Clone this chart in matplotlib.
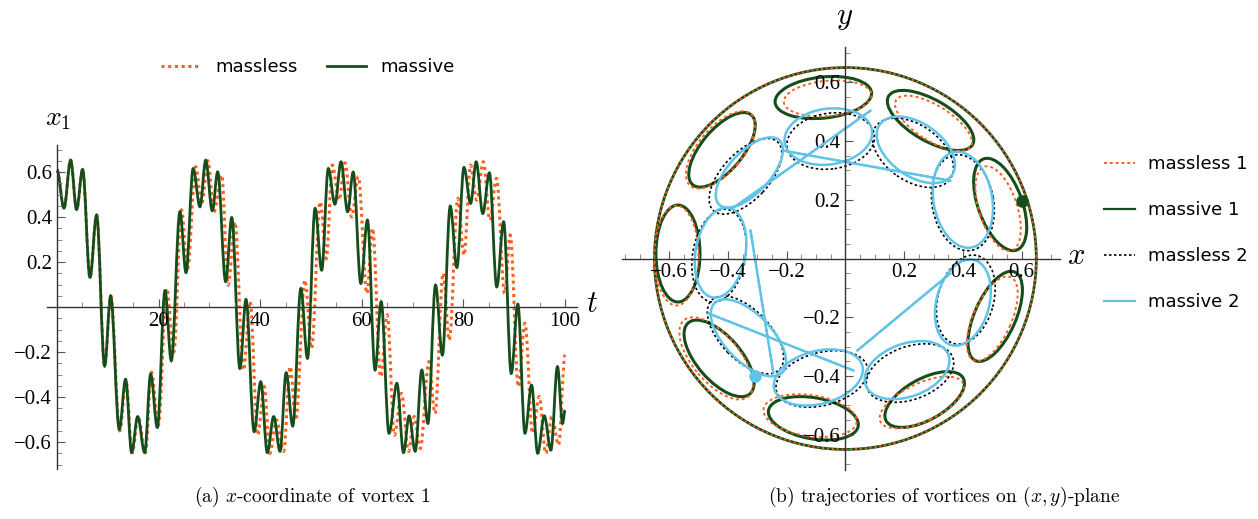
import numpy as np
import matplotlib
matplotlib.use('Agg')
import matplotlib.pyplot as plt
from matplotlib.path import Path
from matplotlib.patches import PathPatch, Ellipse, Circle
from matplotlib.lines import Line2D
from matplotlib.ticker import MultipleLocator

plt.rcParams['mathtext.fontset'] = 'cm'

# ---- (a) extrema of x1(t) ----
massive_t = [0.0, 1.38, 2.69, 3.87, 5.05, 6.5, 7.8, 9.38, 10.56, 12.27, 13.51, 14.7, 15.88, 17.26, 18.44,
             19.75, 21.26, 22.5, 24.2, 25.4, 26.8, 28.15, 29.27, 30.57, 31.63, 33.2, 34.4, 36.0, 37.2, 38.8,
             40.1, 41.4, 42.65, 43.9, 45.1, 46.4, 48.0, 49.3, 50.8, 52.1, 53.4, 54.7, 55.9, 57.2, 58.3,
             59.8, 61.1, 62.6, 63.8, 65.35, 66.9, 68.2, 69.3, 70.5, 71.8, 73.0, 74.5, 75.85, 77.4, 78.7,
             80.1, 81.4, 82.5, 83.8, 85.1, 86.55, 87.9, 89.4, 90.7, 92.1, 93.4, 94.6, 95.9, 97.2, 98.5,
             99.5, 100.0]
massive_x = [0.61, 0.44, 0.653, 0.434, 0.612, 0.132, 0.409, -0.262, 0.049, -0.544, -0.321, -0.647, -0.487, -0.647, -0.298,
             -0.535, 0.073, -0.239, 0.424, 0.153, 0.616, 0.446, 0.653, 0.428, 0.601, 0.113, 0.398, -0.273, 0.034, -0.554,
             -0.332, -0.647, -0.487, -0.641, -0.292, -0.529, 0.083, -0.228, 0.439, 0.164, 0.616, 0.458, 0.646, 0.424, 0.6,
             0.105, 0.387, -0.28, 0.024, -0.561, -0.339, -0.647, -0.484, -0.641, -0.28, -0.517, 0.098, -0.213, 0.449, 0.176,
             0.621, 0.461, 0.646, 0.416, 0.597, 0.09, 0.379, -0.295, 0.013, -0.561, -0.347, -0.65, -0.484, -0.636, -0.265,
             -0.517, -0.458]
massless_t = [0.0, 1.38, 2.69, 3.87, 5.05, 6.5, 7.8, 9.4, 10.6, 12.35, 13.6, 14.8, 16.0, 17.4, 18.6,
              19.95, 21.6, 23.0, 24.5, 25.7, 27.3, 28.5, 29.7, 30.9, 32.4, 33.7, 35.0, 36.7, 38.0, 39.5,
              40.8, 41.9, 43.2, 44.6, 45.9, 47.0, 48.8, 50.1, 51.8, 53.0, 54.2, 55.5, 56.7, 58.0, 59.3,
              61.0, 62.1, 63.7, 65.0, 66.4, 67.8, 69.2, 70.3, 71.5, 73.2, 74.4, 76.0, 77.2, 78.9, 80.1,
              81.4, 82.6, 83.9, 85.2, 86.5, 88.1, 89.2, 90.8, 92.1, 93.6, 94.9, 96.2, 97.4, 98.7, 100.0]
massless_x = [0.61, 0.44, 0.653, 0.434, 0.612, 0.132, 0.409, -0.262, 0.049, -0.55, -0.33, -0.647, -0.49, -0.647, -0.29,
              -0.525, 0.083, -0.199, 0.431, 0.172, 0.624, 0.46, 0.65, 0.424, 0.587, 0.098, 0.379, -0.28, 0.024, -0.569,
              -0.354, -0.65, -0.502, -0.641, -0.265, -0.502, 0.12, -0.184, 0.468, 0.216, 0.631, 0.476, 0.641, 0.401, 0.579,
              0.061, 0.35, -0.31, -0.035, -0.569, -0.384, -0.641, -0.487, -0.628, -0.243, -0.473, 0.15, -0.147, 0.483, 0.231,
              0.631, 0.476, 0.646, 0.387, 0.572, 0.061, 0.32, -0.354, -0.072, -0.561, -0.398, -0.65, -0.487, -0.613, -0.213]

# ---- (b) loops of the trajectories: centre x, centre y, length, width, tilt (deg) ----
disk_r = 0.65
v1_massive = [(-0.075, 0.548, 0.33, 0.14, 6), (0.29, 0.47, 0.33, 0.14, -30), (0.527, 0.184, 0.33, 0.15, -70),
              (0.51, -0.197, 0.33, 0.14, 66), (0.27, -0.48, 0.30, 0.14, 29), (-0.109, -0.544, 0.31, 0.14, -10),
              (-0.43, -0.34, 0.32, 0.15, -49), (-0.57, 0.017, 0.33, 0.15, 90), (-0.42, 0.37, 0.31, 0.14, 50)]
v1_massless = [(-0.06, 0.545, 0.30, 0.12, 5), (0.30, 0.46, 0.30, 0.12, -32), (0.52, 0.17, 0.30, 0.13, -72),
               (0.50, -0.205, 0.31, 0.13, 66), (0.26, -0.49, 0.31, 0.13, 25), (-0.12, -0.535, 0.32, 0.14, -8),
               (-0.44, -0.34, 0.34, 0.16, -50), (-0.575, 0.01, 0.34, 0.15, 90), (-0.425, 0.37, 0.32, 0.15, 50)]
v2_massive = [(-0.058, 0.415, 0.30, 0.19, 8), (-0.327, 0.293, 0.30, 0.14, 47), (-0.425, 0.02, 0.31, 0.17, 80),
              (-0.33, -0.27, 0.33, 0.16, -46), (-0.092, -0.405, 0.31, 0.18, 15), (0.21, -0.38, 0.30, 0.18, 20),
              (0.40, -0.15, 0.30, 0.18, 75), (0.40, 0.20, 0.33, 0.20, 100), (0.24, 0.37, 0.30, 0.18, -35)]
v2_massless = [(-0.05, 0.40, 0.30, 0.19, 8), (-0.34, 0.28, 0.32, 0.16, 47), (-0.43, 0.01, 0.32, 0.18, 80),
               (-0.34, -0.26, 0.33, 0.17, -46), (-0.08, -0.41, 0.32, 0.18, 15), (0.22, -0.39, 0.31, 0.18, 20),
               (0.41, -0.14, 0.31, 0.19, 75), (0.40, 0.19, 0.33, 0.21, 100), (0.23, 0.36, 0.31, 0.19, -35)]
# straight runs of vortex 2 between loops (x0, y0, x1, y1)
v2_chords = [(-0.211, 0.367, 0.357, 0.265), (0.085, 0.503, -0.381, 0.173), (-0.323, 0.095, -0.245, -0.391),
             (-0.466, -0.187, 0.027, -0.381), (0.041, -0.313, 0.357, -0.051)]
v1_now = (0.602, 0.197)
v2_now = (-0.306, -0.401)

c_orange = '#ff5e1a'
c_green = '#154d1c'
c_blue = '#5ec4ea'


def wave_path(t, x, c=0.36):
    verts = [(t[0], x[0])]
    codes = [Path.MOVETO]
    for k in range(len(t) - 1):
        dt = t[k + 1] - t[k]
        verts += [(t[k] + c * dt, x[k]), (t[k + 1] - c * dt, x[k + 1]), (t[k + 1], x[k + 1])]
        codes += [Path.CURVE4] * 3
    return Path(verts, codes)


def axes_style(ax, major, minor):
    for s in ['top', 'right']:
        ax.spines[s].set_visible(False)
    ax.spines['left'].set_position(('data', 0))
    ax.spines['bottom'].set_position(('data', 0))
    for s in ['left', 'bottom']:
        ax.spines[s].set_color('#333333')
        ax.spines[s].set_linewidth(1.0)
    ax.xaxis.set_minor_locator(MultipleLocator(minor[0]))
    ax.yaxis.set_minor_locator(MultipleLocator(minor[1]))
    ax.tick_params(which='major', direction='in', length=6, width=0.8, color='#555555', labelsize=15)
    ax.tick_params(which='minor', direction='in', length=3.5, width=0.6, color='#777777')
    for lab in ax.get_xticklabels() + ax.get_yticklabels():
        lab.set_fontfamily('Liberation Serif')


fig = plt.figure(figsize=(12.58, 5.19), dpi=100)

# ---------------- (a) ----------------
ax1 = fig.add_axes([0.0372, 0.0963, 0.4213, 0.624])
ax1.add_patch(PathPatch(wave_path(massless_t, massless_x), fill=False, ec=c_orange, lw=2.2,
                        linestyle=(0, (1.0, 1.2))))
ax1.add_patch(PathPatch(wave_path(massive_t, massive_x), fill=False, ec=c_green, lw=2.0))
ax1.set_xlim(-2, 102.3)
ax1.set_ylim(-0.72, 0.72)
ax1.set_xticks([20, 40, 60, 80, 100])
ax1.set_yticks([-0.6, -0.4, -0.2, 0.2, 0.4, 0.6])
ax1.set_xticklabels(['20', '40', '60', '80', '100'])
ax1.set_yticklabels(['\u22120.6', '\u22120.4', '\u22120.2', '0.2', '0.4', '0.6'])
axes_style(ax1, (20, 0.2), (5, 0.05))

leg1 = [Line2D([], [], color=c_orange, lw=2.2, ls=(0, (1.0, 1.2))),
        Line2D([], [], color=c_green, lw=2.0)]
fig.legend(leg1, ['massless', 'massive'], loc='center', bbox_to_anchor=(308 / 1258, 1 - 67 / 519),
           ncol=2, frameon=False, fontsize=13, handlelength=2.2, columnspacing=1.6)
fig.text(58 / 1258, 1 - 118 / 519, r'$x_1$', fontsize=20, ha='center', va='center')
fig.text(592 / 1258, 1 - 304 / 519, r'$t$', fontsize=22, ha='center', va='center')

# ---------------- (b) ----------------
ax2 = fig.add_axes([0.4944, 0.0944, 0.3482, 0.815])
ax2.add_patch(Circle((0, 0), disk_r, fill=False, ec=c_green, lw=2.0))
ax2.add_patch(Circle((0, 0), disk_r, fill=False, ec=c_orange, lw=1.4, ls=(0, (1.0, 1.5))))
for cx, cy, w, h, a in v1_massive:
    ax2.add_patch(Ellipse((cx, cy), w, h, angle=a, fill=False, ec=c_green, lw=2.2))
for cx, cy, w, h, a in v1_massless:
    ax2.add_patch(Ellipse((cx, cy), w, h, angle=a, fill=False, ec=c_orange, lw=1.4, ls=(0, (1.5, 1.5))))
for cx, cy, w, h, a in v2_massless:
    ax2.add_patch(Ellipse((cx, cy), w, h, angle=a, fill=False, ec='black', lw=1.2, ls=(0, (1.5, 1.5))))
for x0, y0, x1, y1 in v2_chords:
    ax2.plot([x0, x1], [y0, y1], color='black', lw=1.2, ls=(0, (1.5, 1.5)))
for cx, cy, w, h, a in v2_massive:
    ax2.add_patch(Ellipse((cx, cy), w, h, angle=a, fill=False, ec=c_blue, lw=1.8))
for x0, y0, x1, y1 in v2_chords:
    ax2.plot([x0, x1], [y0, y1], color=c_blue, lw=1.8)
ax2.plot(*v1_now, 'o', color=c_green, ms=8)
ax2.plot(*v2_now, 'o', color=c_blue, ms=8)

ax2.set_xlim(-0.76, 0.73)
ax2.set_ylim(-0.72, 0.72)
ax2.set_aspect('equal')
ticks = [-0.6, -0.4, -0.2, 0.2, 0.4, 0.6]
labs = ['\u22120.6', '\u22120.4', '\u22120.2', '0.2', '0.4', '0.6']
ax2.set_xticks(ticks)
ax2.set_yticks(ticks)
ax2.set_xticklabels(labs)
ax2.set_yticklabels(labs)
axes_style(ax2, (0.2, 0.2), (0.05, 0.05))
fig.text(845 / 1258, 1 - 17 / 519, r'$y$', fontsize=22, ha='center', va='center')
fig.text(1076 / 1258, 1 - 255 / 519, r'$x$', fontsize=22, ha='center', va='center')

leg2 = [Line2D([], [], color=c_orange, lw=1.4, ls=(0, (1.5, 1.5))),
        Line2D([], [], color=c_green, lw=1.6),
        Line2D([], [], color='black', lw=1.2, ls=(0, (1.5, 1.5))),
        Line2D([], [], color=c_blue, lw=1.6)]
fig.legend(leg2, ['massless 1', 'massive 1', 'massless 2', 'massive 2'], loc='center left',
           bbox_to_anchor=(1088 / 1258, 1 - 233 / 519), frameon=False, fontsize=13,
           handlelength=1.7, handletextpad=0.7, labelspacing=1.55)

# captions
fig.text(312 / 1258, 1 - 497 / 519, r'(a) $x$-coordinate of vortex 1', fontsize=14,
         ha='center', va='center', family='cmr10')
fig.text(944 / 1258, 1 - 497 / 519, r'(b) trajectories of vortices on $(x,y)$-plane', fontsize=14,
         ha='center', va='center', family='cmr10')

fig.savefig('out.png', dpi=100)
